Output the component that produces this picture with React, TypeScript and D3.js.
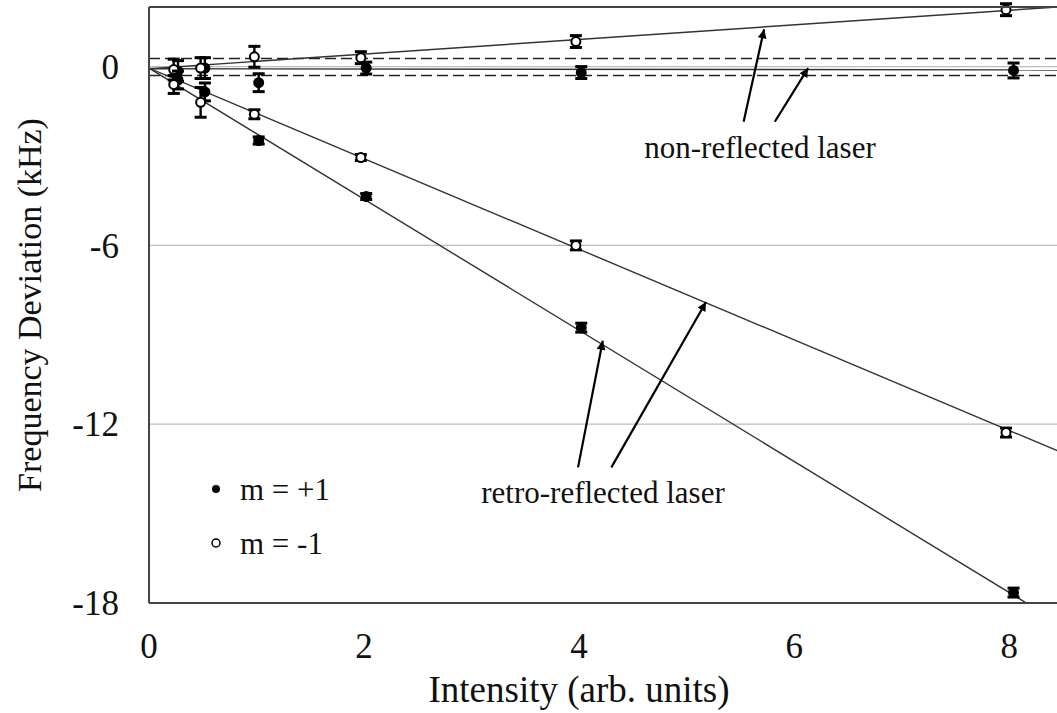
import { useEffect } from "react";
import * as d3 from "d3";

// intensity positions (points are slightly offset per series in the figure)
const intensityOpen = [0.23, 0.48, 0.98, 1.97, 3.97, 7.97];
const intensityFilled = [0.27, 0.52, 1.02, 2.02, 4.02, 8.04];

// non-reflected laser
const nonReflPlus = [-0.15, -0.05, -0.54, -0.05, -0.2, -0.13];
const nonReflPlusErr = [0.35, 0.35, 0.3, 0.2, 0.2, 0.25];
const nonReflMinus = [-0.1, -0.05, 0.33, 0.3, 0.84, 1.91];
const nonReflMinusErr = [0.35, 0.35, 0.35, 0.2, 0.2, 0.2];

// retro-reflected laser
const retroPlus = [-0.45, -0.85, -2.48, -4.36, -8.76, -17.65];
const retroPlusErr = [0.3, 0.3, 0.12, 0.1, 0.15, 0.15];
const retroMinus = [-0.6, -1.2, -1.6, -3.05, -6.0, -12.28];
const retroMinusErr = [0.3, 0.5, 0.15, 0.1, 0.15, 0.15];

// linear fits: [intercept, slope]
const fitNonReflPlus = [-0.07, -0.005];
const fitNonReflMinus = [-0.07, 0.245];
const fitRetroPlus = [-0.05, -2.2];
const fitRetroMinus = [-0.05, -1.52];

const dashedLevels = [0.27, -0.3];
const gridLevels = [0, -6, -12];
const xTicks = [0, 2, 4, 6, 8];
const yTicks = [0, -6, -12, -18];

const W = 1057;
const H = 713;
const m = { left: 149, top: 7, right: 1063, bottom: 603 };

export default function App() {
  useEffect(() => {
    document.body.style.margin = "0";
  }, []);

  const x = d3.scaleLinear().domain([0, 8.5]).range([m.left, m.right]);
  const y = d3.scaleLinear().domain([-18, 2]).range([m.bottom, m.top]);

  const series = [
    { xs: intensityFilled, ys: nonReflPlus, err: nonReflPlusErr, filled: true },
    { xs: intensityOpen, ys: nonReflMinus, err: nonReflMinusErr, filled: false },
    { xs: intensityFilled, ys: retroPlus, err: retroPlusErr, filled: true },
    { xs: intensityOpen, ys: retroMinus, err: retroMinusErr, filled: false },
  ];
  const fits = [fitNonReflPlus, fitNonReflMinus, fitRetroPlus, fitRetroMinus];

  // annotation arrows in data coordinates: [x0, y0, x1, y1]
  const arrows = [
    [5.53, -1.85, 5.72, 1.25],
    [5.82, -1.85, 6.13, -0.05],
    [3.99, -13.45, 4.22, -9.2],
    [4.3, -13.45, 5.18, -7.9],
  ];

  const txt = { fontFamily: "Liberation Serif", fill: "#111" };

  return (
    <svg width={W} height={H} style={{ display: "block", background: "#fff" }}>
      <defs>
        <clipPath id="plot">
          <rect x={m.left} y={m.top} width={m.right - m.left} height={m.bottom - m.top} />
        </clipPath>
        <marker id="ah" viewBox="0 0 10 10" refX="10" refY="5" markerWidth="13" markerHeight="9" orient="auto" markerUnits="userSpaceOnUse">
          <path d="M0,0 L10,5 L0,10 z" fill="#000" />
        </marker>
      </defs>

      {gridLevels.map((v) => (
        <line key={v} x1={m.left} x2={m.right} y1={y(v)} y2={y(v)} stroke="#bdbdbd" strokeWidth={1.3} />
      ))}

      <g clipPath="url(#plot)">
        {dashedLevels.map((v) => (
          <line key={v} x1={m.left} x2={m.right} y1={y(v)} y2={y(v)} stroke="#222" strokeWidth={1.4} strokeDasharray="11,5" />
        ))}
        {fits.map(([b, s], i) => (
          <line key={i} x1={x(0)} y1={y(b)} x2={x(8.5)} y2={y(b + s * 8.5)} stroke="#333" strokeWidth={1.4} />
        ))}
      </g>

      {series.map((s, si) => (
        <g key={si}>
          {s.xs.map((xv, i) => {
            const cx = x(xv);
            const lo = y(s.ys[i] - s.err[i]);
            const hi = y(s.ys[i] + s.err[i]);
            return (
              <g key={i}>
                <line x1={cx} x2={cx} y1={lo} y2={hi} stroke="#000" strokeWidth={2.4} />
                <line x1={cx - 6} x2={cx + 6} y1={lo} y2={lo} stroke="#000" strokeWidth={3} />
                <line x1={cx - 6} x2={cx + 6} y1={hi} y2={hi} stroke="#000" strokeWidth={3} />
                <circle cx={cx} cy={y(s.ys[i])} r={4.5} fill={s.filled ? "#000" : "#fff"} stroke="#000" strokeWidth={2} />
              </g>
            );
          })}
        </g>
      ))}

      {/* frame */}
      <line x1={m.left} x2={m.left} y1={m.top} y2={m.bottom} stroke="#444" strokeWidth={2} />
      <line x1={m.left} x2={W} y1={m.top} y2={m.top} stroke="#444" strokeWidth={2} />
      <line x1={m.left} x2={W} y1={m.bottom} y2={m.bottom} stroke="#444" strokeWidth={2} />

      {xTicks.map((t) => (
        <text key={t} x={x(t)} y={646} dy="0.35em" textAnchor="middle" fontSize={35} style={txt}>
          {t}
        </text>
      ))}
      {yTicks.map((t) => (
        <text key={t} x={119} y={y(t)} dy="0.35em" textAnchor="end" fontSize={35} style={txt}>
          {t}
        </text>
      ))}

      <text x={579} y={689} dy="0.35em" textAnchor="middle" fontSize={37} style={txt}>
        Intensity (arb. units)
      </text>
      <text transform="translate(29,305) rotate(-90)" dy="0.35em" textAnchor="middle" fontSize={34} style={txt}>
        Frequency Deviation (kHz)
      </text>

      {/* legend */}
      <circle cx={216} cy={489} r={4} fill="#000" />
      <text x={240} y={489} dy="0.35em" fontSize={31} style={txt}>m = +1</text>
      <circle cx={216} cy={543} r={4} fill="#fff" stroke="#000" strokeWidth={1.5} />
      <text x={240} y={543} dy="0.35em" fontSize={31} style={txt}>m = -1</text>

      {/* annotations */}
      {arrows.map((a, i) => (
        <line key={i} x1={x(a[0])} y1={y(a[1])} x2={x(a[2])} y2={y(a[3])} stroke="#000" strokeWidth={2.2} markerEnd="url(#ah)" />
      ))}
      <text x={760} y={147} dy="0.35em" textAnchor="middle" fontSize={31} style={txt}>
        non-reflected laser
      </text>
      <text x={603} y={492} dy="0.35em" textAnchor="middle" fontSize={31} style={txt}>
        retro-reflected laser
      </text>
    </svg>
  );
}
